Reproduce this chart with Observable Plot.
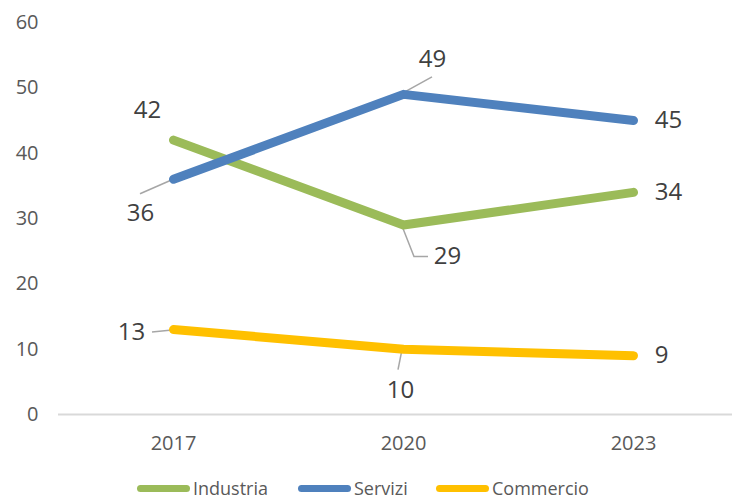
<!DOCTYPE html>
<html>
<head>
<meta charset="utf-8">
<script src="https://cdn.jsdelivr.net/npm/d3@7"></script>
<script src="https://cdn.jsdelivr.net/npm/@observablehq/plot@0.6"></script>
<style>
  html, body { margin: 0; padding: 0; background: #fff; }
  body { width: 732px; height: 501px; overflow: hidden; position: relative; font-family: "Open Sans", sans-serif; }
  #legend { position: absolute; top: 476px; left: 0; width: 732px; height: 24px; }
  .item { position: absolute; top: 0; height: 24px; display: flex; align-items: center; font-size: 18px; color: #595959; }
  .sw { width: 53px; height: 7px; border-radius: 4px; margin-right: 3px; }
</style>
</head>
<body>
<div id="chart"></div>
<div id="legend"></div>
<script>
// ---- data ----
const years = ["2017", "2020", "2023"];
const seriesNames = ["Industria", "Servizi", "Commercio"];
const industria = [42, 29, 34];
const servizi = [36, 49, 45];
const commercio = [13, 10, 9];
const yTicks = [0, 10, 20, 30, 40, 50, 60];

// ---- styling / layout ----
const colors = ["#9BBB59", "#4F81BD", "#FFC000"];
// label offsets (px) from each point, per series per year
const labelOffsets = {
  Industria: [[-26, -30], [44, 31], [35, 0]],
  Servizi:   [[-33, 34], [29, -35], [35, 0]],
  Commercio: [[-42, 3], [-3, 41], [28, 0]]
};
// leader line pixel offsets (polyline) relative to point; null = none
const leaderOffsets = {
  Industria: [null, [[0, 4], [11, 32], [25, 32]], null],
  Servizi:   [[[-1, 1], [-33, 15]], [[0, -1], [29, -17]], null],
  Commercio: [[[-21, 3], [-1, 1]], [[-1, 1], [-5, 21]], null]
};

const valuesBySeries = { Industria: industria, Servizi: servizi, Commercio: commercio };
const rows = [];
for (const s of seriesNames) {
  valuesBySeries[s].forEach((v, i) => rows.push({ series: s, year: years[i], value: v, i }));
}

const labelMarks = rows.map(r => {
  const [dx, dy] = labelOffsets[r.series][r.i];
  return Plot.text([r], {
    x: "year", y: "value", text: d => String(d.value),
    dx, dy, fontSize: 24, fill: "#404040", textAnchor: "middle"
  });
});

function leaders(index, scales) {
  const g = d3.create("svg:g");
  const sx = scales.x, sy = scales.y;
  for (const r of rows) {
    const pts = leaderOffsets[r.series][r.i];
    if (!pts) continue;
    const px = sx(r.year), py = sy(r.value);
    g.append("polyline")
      .attr("points", pts.map(([a, b]) => `${px + a},${py + b}`).join(" "))
      .attr("fill", "none")
      .attr("stroke", "#a6a6a6")
      .attr("stroke-width", 1.5);
  }
  return g.node();
}

const chart = Plot.plot({
  width: 732,
  height: 475,
  marginLeft: 58,
  marginRight: 0,
  marginTop: 22,
  marginBottom: 61,
  style: { fontFamily: "'Open Sans', sans-serif", fontSize: "20px", color: "#595959", background: "#fff" },
  x: { type: "point", domain: years, range: [173, 633], padding: 0, tickSize: 0, tickPadding: 21, label: null },
  y: { domain: [0, 60], range: [414, 22], ticks: yTicks, tickSize: 0, tickPadding: 20, label: null },
  color: { domain: seriesNames, range: colors },
  marks: [
    Plot.ruleY([0], { stroke: "#d9d9d9", strokeWidth: 2 }),
    leaders,
    Plot.line(rows, {
      x: "year", y: "value", z: "series", stroke: "series",
      strokeWidth: 9, strokeLinecap: "round", strokeLinejoin: "round"
    }),
    ...labelMarks
  ]
});
document.getElementById("chart").appendChild(chart);

// legend
const legendLeft = [137, 298, 436];
const legend = document.getElementById("legend");
seriesNames.forEach((s, i) => {
  const item = document.createElement("div");
  item.className = "item";
  item.style.left = legendLeft[i] + "px";
  const sw = document.createElement("div");
  sw.className = "sw";
  sw.style.background = colors[i];
  const t = document.createElement("span");
  t.textContent = s;
  item.appendChild(sw);
  item.appendChild(t);
  legend.appendChild(item);
});
</script>
</body>
</html>
